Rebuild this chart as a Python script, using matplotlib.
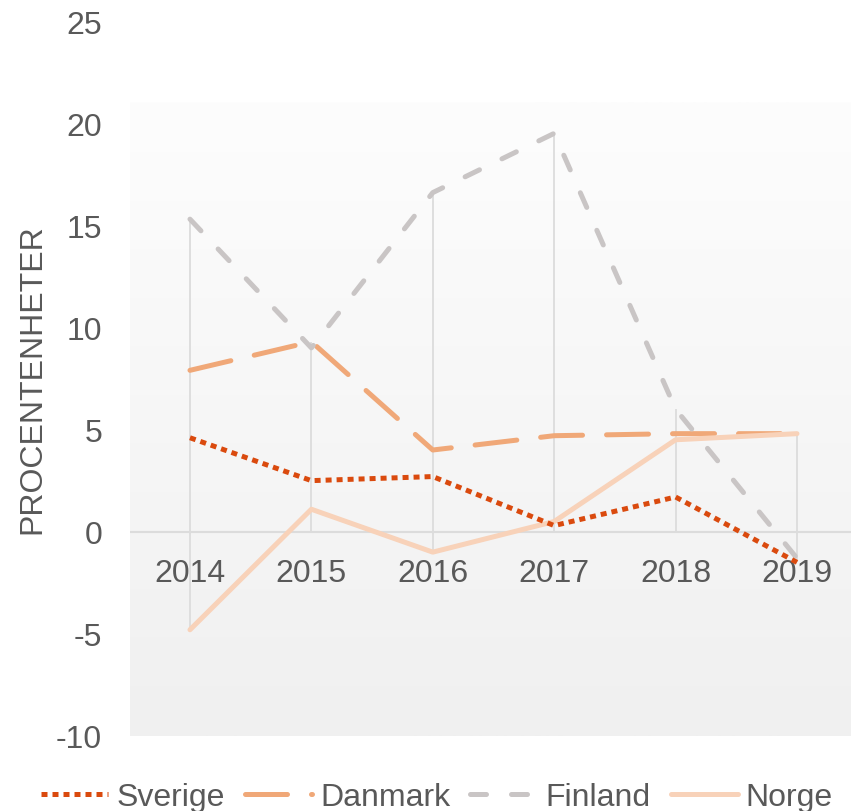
#line chart, percent units per country

import matplotlib.pyplot as plt
import numpy as np
from matplotlib.colors import LinearSegmentedColormap

years = ['2014', '2015', '2016', '2017', '2018', '2019']
sverige = [4.6, 2.5, 2.7, 0.3, 1.7, -1.5]
danmark = [7.9, 9.3, 4.0, 4.7, 4.8, 4.8]
finland = [15.3, 9.0, 16.6, 19.5, 6.0, -1.3]
norge = [-4.8, 1.1, -1.0, 0.5, 4.5, 4.8]

plt.rcParams['font.family'] = ['Liberation Sans', 'DejaVu Sans']
plt.rcParams['axes.unicode_minus'] = False
txt = '#595959'

fig = plt.figure(figsize=(8.51, 8.12), dpi=100)
ax = fig.add_axes([130/851, 75/812, 1 - 130/851, (737-22)/812])

x = np.arange(len(years))
xmin, xmax = -0.494, 5.445

# plot area background, white at top to light grey at bottom
cmap = LinearSegmentedColormap.from_list('bg', ['#FDFDFD', '#F0F0F0'])
grad = np.linspace(0, 1, 256).reshape(-1, 1)
ax.imshow(grad, cmap=cmap, aspect='auto', extent=(xmin, xmax, -10, 21),
          origin='upper', zorder=0)

# drop lines and zero line
allv = np.array([sverige, danmark, finland, norge])
lo = np.minimum(allv.min(axis=0), 0)
hi = np.maximum(allv.max(axis=0), 0)
ax.vlines(x, lo, hi, color='#DCDCDC', lw=1.3, zorder=1)
ax.axhline(0, color='#DCDCDC', lw=1.5, zorder=1)

lw = 3.6
ax.plot(x, danmark, color='#F0A878', lw=lw, ls=(0, (8.4, 4.8)),
        dash_capstyle='round', solid_capstyle='round', label='Danmark', zorder=2)
ax.plot(x, norge, color='#F8D2B9', lw=lw, solid_capstyle='round',
        label='Norge', zorder=3)
ax.plot(x, finland, color='#C9C5C5', lw=lw, ls=(0, (3.2, 5.0)),
        dash_capstyle='round', label='Finland', zorder=4)
ax.plot(x, sverige, color='#DA4A0E', lw=lw, ls=(0, (1.2, 1.0)),
        dash_capstyle='butt', label='Sverige', zorder=5)

ax.set_xlim(xmin, xmax)
ax.set_ylim(-10, 25)
ax.set_yticks(range(-10, 30, 5))
ax.set_xticks(x)
ax.set_xticklabels(years)
for s in ax.spines.values():
    s.set_visible(False)
ax.spines['bottom'].set_position(('data', 0))
ax.tick_params(axis='x', length=0, pad=19, labelsize=23, colors=txt)
ax.tick_params(axis='y', length=0, pad=20, labelsize=23, colors=txt)

fig.text(32/851, (812-379.5)/812, 'PROCENTENHETER', rotation=90,
         ha='center', va='center', fontsize=23, color=txt)

h, l = ax.get_legend_handles_labels()
order = [l.index(n) for n in ['Sverige', 'Danmark', 'Finland', 'Norge']]
leg = fig.legend([h[i] for i in order], [l[i] for i in order], loc='center',
                 bbox_to_anchor=(437/851, 14/812), ncol=4, frameon=False,
                 fontsize=23, handlelength=2.1, handletextpad=0.25,
                 columnspacing=0.63, borderpad=0, borderaxespad=0)
for t in leg.get_texts():
    t.set_color(txt)

fig.savefig('out.png', dpi=100)
